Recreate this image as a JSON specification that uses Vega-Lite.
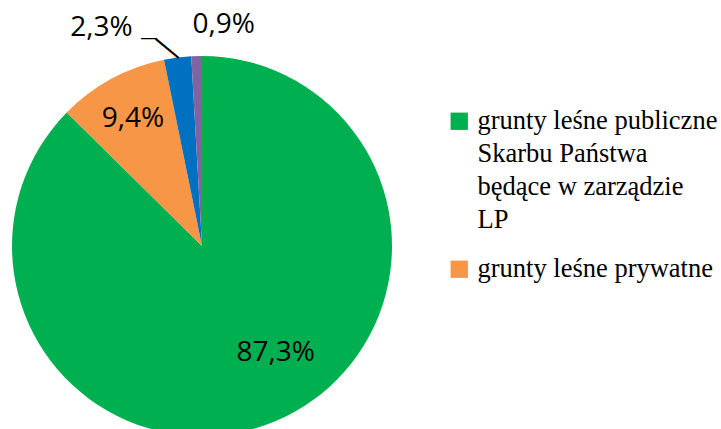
{
  "$schema": "https://vega.github.io/schema/vega-lite/v6.json",
  "width": 380,
  "height": 380,
  "padding": {"left": 12, "top": 56, "right": 329, "bottom": 0},
  "autosize": {"type": "none"},
  "background": "white",
  "config": {"view": {"stroke": null}},
  "data": {
    "values": [
      {"kategoria": "grunty leśne publiczne Skarbu Państwa będące w zarządzie LP", "udzial": 87.3, "etykieta": "87,3%", "kolejnosc": 1},
      {"kategoria": "grunty leśne prywatne", "udzial": 9.4, "etykieta": "9,4%", "kolejnosc": 2},
      {"kategoria": "grunty leśne publiczne Skarbu Państwa w zarządzie innych jednostek", "udzial": 2.3, "etykieta": "2,3%", "kolejnosc": 3},
      {"kategoria": "grunty leśne publiczne gminne", "udzial": 0.9, "etykieta": "0,9%", "kolejnosc": 4}
    ]
  },
  "encoding": {
    "theta": {"field": "udzial", "type": "quantitative", "stack": true},
    "order": {"field": "kolejnosc", "type": "quantitative"},
    "color": {
      "field": "kategoria",
      "type": "nominal",
      "sort": null,
      "scale": {
        "domain": [
          "grunty leśne publiczne Skarbu Państwa będące w zarządzie LP",
          "grunty leśne prywatne",
          "grunty leśne publiczne Skarbu Państwa w zarządzie innych jednostek",
          "grunty leśne publiczne gminne"
        ],
        "range": ["#00B050", "#F79646", "#0070C0", "#8064A2"]
      },
      "legend": {
        "title": null,
        "orient": "none",
        "legendX": 434,
        "legendY": 52,
        "values": ["grunty leśne publiczne Skarbu Państwa będące w zarządzie LP", "grunty leśne prywatne"],
        "symbolType": "square",
        "symbolSize": 300,
        "symbolStrokeWidth": 0,
        "labelFont": "Liberation Serif",
        "labelFontSize": 26.5,
        "labelColor": "#000000",
        "labelLimit": 0,
        "labelOffset": 5,
        "rowPadding": 22,
        "labelExpr": "datum.label == 'grunty leśne prywatne' ? datum.label : ['grunty leśne publiczne', 'Skarbu Państwa', 'będące w zarządzie', 'LP']",
        "encode": {"labels": {"update": {"lineHeight": {"value": 33}}}}
      }
    }
  },
  "layer": [
    {"mark": {"type": "arc"}},
    {
      "mark": {"type": "text", "radius": 129, "dx": 24, "dy": -12, "font": "Open Sans", "fontSize": 28},
      "encoding": {
        "text": {"condition": {"test": "datum.kolejnosc == 1", "field": "etykieta"}, "value": ""},
        "color": {"value": "#000000"}
      }
    },
    {
      "mark": {"type": "text", "radius": 145, "font": "Open Sans", "fontSize": 28},
      "encoding": {
        "text": {"condition": {"test": "datum.kolejnosc == 2", "field": "etykieta"}, "value": ""},
        "color": {"value": "#000000"}
      }
    },
    {
      "mark": {"type": "text", "radius": 222, "dx": -72, "dy": 2, "font": "Open Sans", "fontSize": 28},
      "encoding": {
        "text": {"condition": {"test": "datum.kolejnosc == 3", "field": "etykieta"}, "value": ""},
        "color": {"value": "#000000"}
      }
    },
    {
      "mark": {"type": "text", "radius": 222, "dx": -24.5, "dy": 12, "font": "Liberation Sans", "fontSize": 16, "baseline": "middle"},
      "encoding": {
        "text": {"condition": {"test": "datum.kolejnosc == 3", "value": "—"}, "value": ""},
        "color": {"value": "#000000"}
      }
    },
    {
      "mark": {"type": "text", "radius": 222, "dx": 9.5, "dy": 20.1, "angle": 39.6, "font": "Liberation Sans", "fontSize": 30, "baseline": "middle"},
      "encoding": {
        "text": {"condition": {"test": "datum.kolejnosc == 3", "value": "—"}, "value": ""},
        "color": {"value": "#000000"}
      }
    },
    {
      "mark": {"type": "text", "radius": 221, "dx": 28, "dy": 0, "font": "Open Sans", "fontSize": 28},
      "encoding": {
        "text": {"condition": {"test": "datum.kolejnosc == 4", "field": "etykieta"}, "value": ""},
        "color": {"value": "#000000"}
      }
    }
  ]
}
